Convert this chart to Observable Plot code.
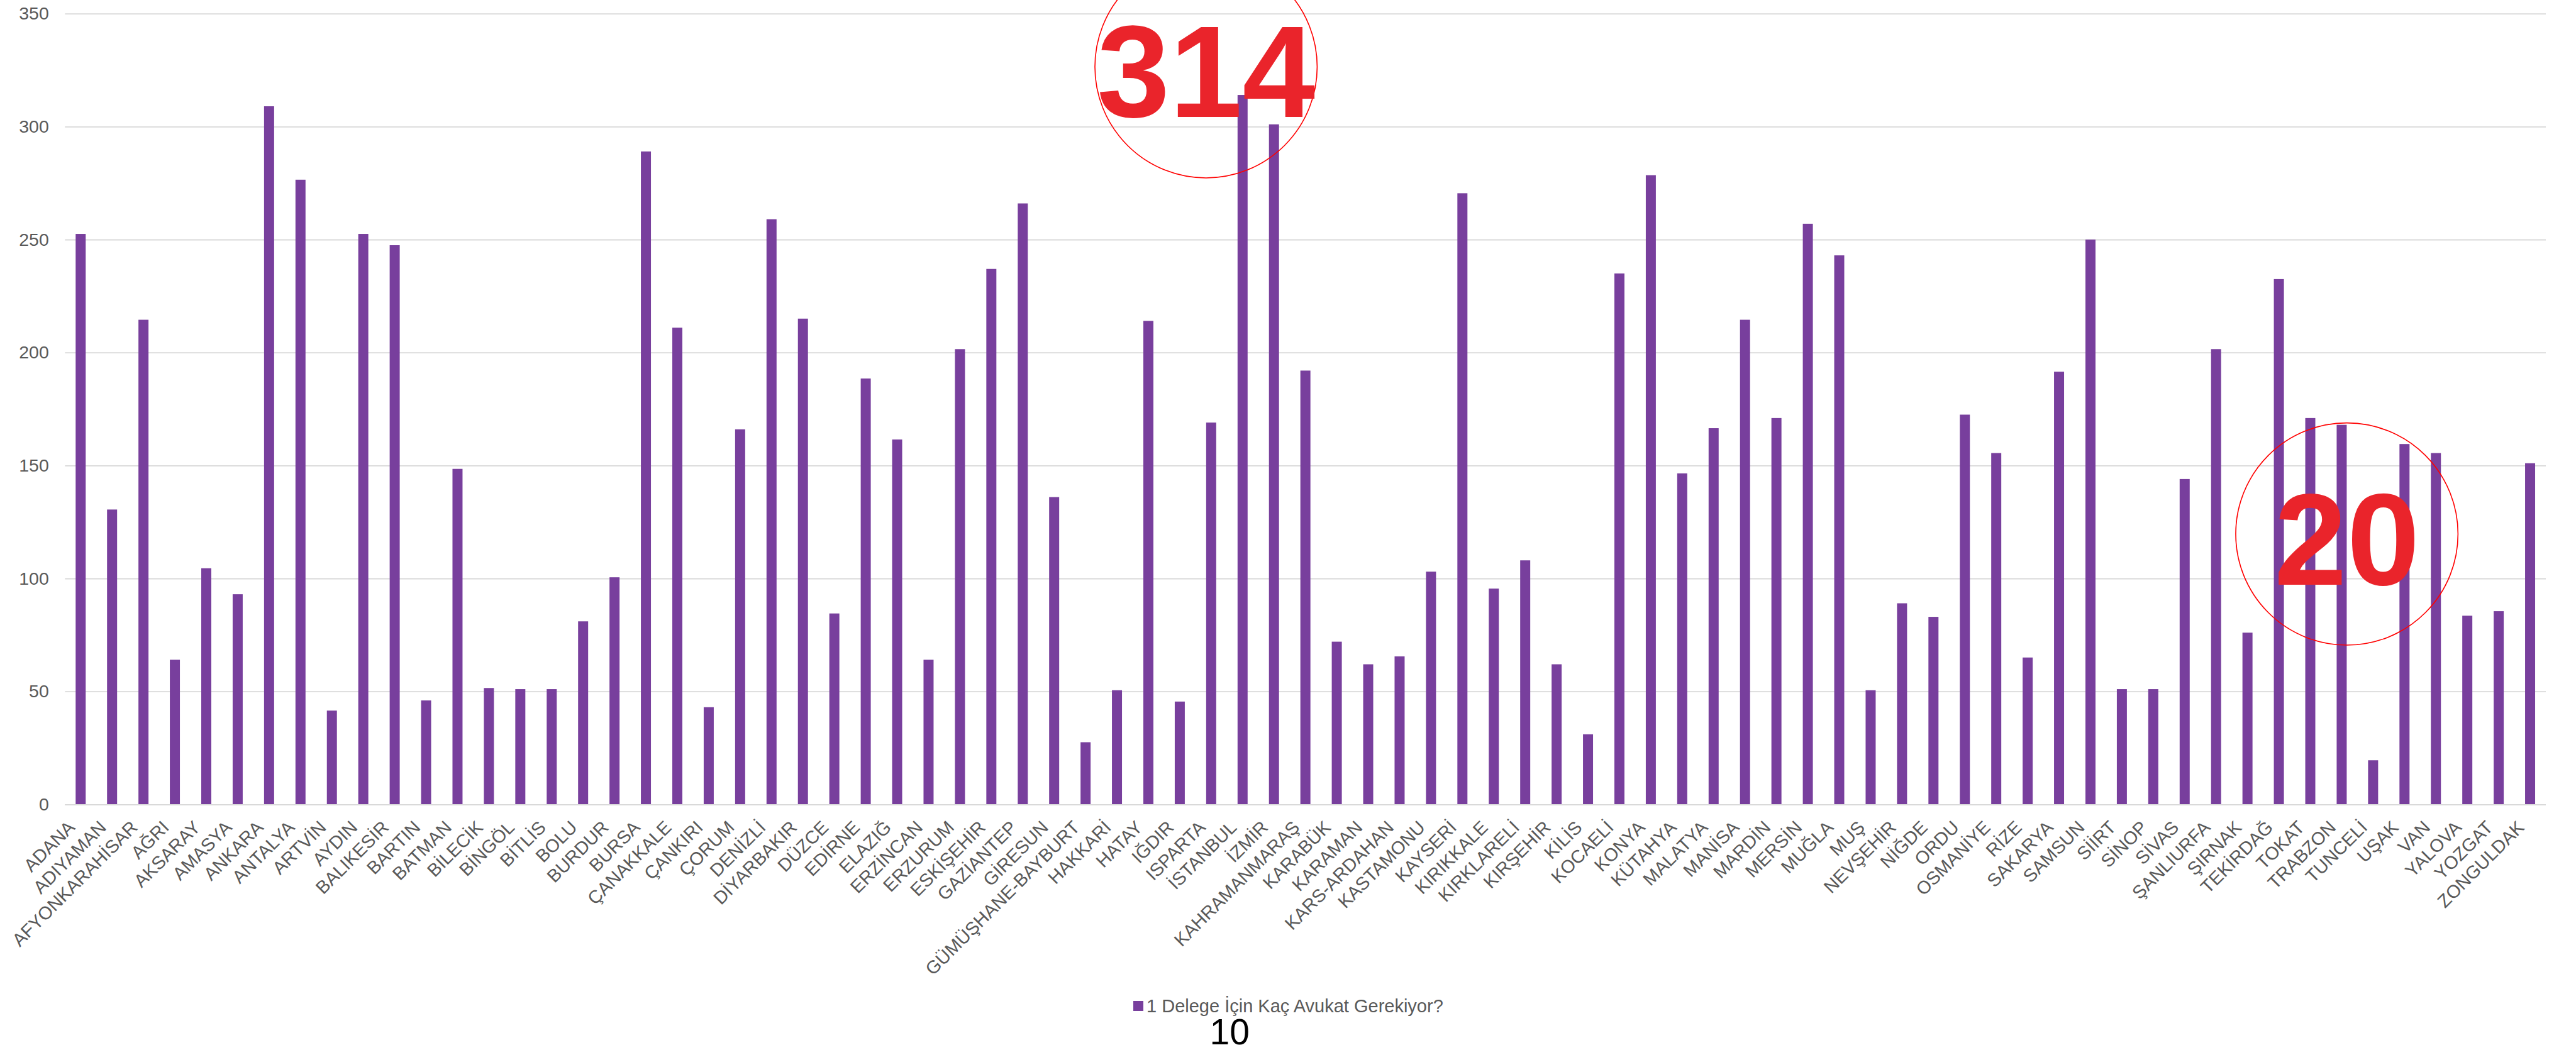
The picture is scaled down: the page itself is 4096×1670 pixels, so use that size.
<!DOCTYPE html>
<html>
<head>
<meta charset="utf-8">
<script src="https://cdn.jsdelivr.net/npm/d3@7"></script>
<script src="https://cdn.jsdelivr.net/npm/@observablehq/plot@0.6"></script>
<style>
html, body { margin: 0; padding: 0; background: #ffffff; }
#wrap { position: relative; width: 4096px; height: 1670px; overflow: hidden; background: #ffffff;
  font-family: "Liberation Sans", Arial, sans-serif; }
#legend { position: absolute; left: 1802px; top: 1585.5px; display: flex; align-items: center;
  font-size: 29px; line-height: 1; color: #595959; white-space: nowrap; }
#legend .sw { width: 16px; height: 15.5px; background: #783F9D; margin-right: 5px; }
#note { position: absolute; left: 1923.5px; top: 1615.6px; font-size: 57px; line-height: 0.9; color: #000; }
</style>
</head>
<body>
<div id="wrap"></div>
<script>
const provinces = ["ADANA","ADIYAMAN","AFYONKARAHİSAR","AĞRI","AKSARAY","AMASYA","ANKARA","ANTALYA","ARTVİN","AYDIN",
  "BALIKESİR","BARTIN","BATMAN","BİLECİK","BİNGÖL","BİTLİS","BOLU","BURDUR","BURSA","ÇANAKKALE",
  "ÇANKIRI","ÇORUM","DENİZLİ","DİYARBAKIR","DÜZCE","EDİRNE","ELAZIĞ","ERZİNCAN","ERZURUM","ESKİŞEHİR",
  "GAZİANTEP","GİRESUN","GÜMÜŞHANE-BAYBURT","HAKKARİ","HATAY","IĞDIR","ISPARTA","İSTANBUL","İZMİR","KAHRAMANMARAŞ",
  "KARABÜK","KARAMAN","KARS-ARDAHAN","KASTAMONU","KAYSERİ","KIRIKKALE","KIRKLARELİ","KIRŞEHİR","KİLİS","KOCAELİ",
  "KONYA","KÜTAHYA","MALATYA","MANİSA","MARDİN","MERSİN","MUĞLA","MUŞ","NEVŞEHİR","NİĞDE",
  "ORDU","OSMANİYE","RİZE","SAKARYA","SAMSUN","SİİRT","SİNOP","SİVAS","ŞANLIURFA","ŞIRNAK",
  "TEKİRDAĞ","TOKAT","TRABZON","TUNCELİ","UŞAK","VAN","YALOVA","YOZGAT","ZONGULDAK"];

const values = [252.5,130.5,214.5,64,104.5,93,309,276.5,41.5,252.5,
  247.5,46,148.5,51.5,51,51,81,100.5,289,211,
  43,166,259,215,84.5,188.5,161.5,64,201.5,237,
  266,136,27.5,50.5,214,45.5,169,314,301,192,
  72,62,65.5,103,270.5,95.5,108,62,31,235,
  278.5,146.5,166.5,214.5,171,257,243,50.5,89,83,
  172.5,155.5,65,191.5,250,51,51,144,201.5,76,
  232.5,171,168,19.5,159.5,155.5,83.5,85.5,151];

const yTicks = [0, 50, 100, 150, 200, 250, 300, 350];
const seriesName = "1 Delege İçin Kaç Avukat Gerekiyor?";
const noteText = "10";
const highAnnotation = [{province: "İSTANBUL", label: "314"}];
const lowAnnotation = [{province: "TUNCELİ", label: "20"}];

const data = provinces.map((p, i) => ({province: p, value: values[i]}));

const barColor = "#783F9D";
const red = "#EA242B";
const font = "Liberation Sans, Arial, sans-serif";

const chart = Plot.plot({
  width: 4096,
  height: 1560,
  marginTop: 21.7,
  marginBottom: 280.7,
  marginLeft: 103.3,
  marginRight: 48,
  style: {fontFamily: font, background: "#ffffff"},
  x: {domain: provinces, paddingInner: 0.68, paddingOuter: 0.34, label: null},
  y: {domain: [0, 350], label: null},
  marks: [
    Plot.gridY(yTicks, {stroke: "#D9D9D9", strokeOpacity: 1, strokeWidth: 1.8}),
    Plot.barY(data, {x: "province", y: "value", fill: barColor}),
    Plot.ruleY([0], {stroke: "#D9D9D9", strokeWidth: 1.8}),
    Plot.axisY(yTicks, {tickSize: 0, tickPadding: 26, fontSize: 28.5, fill: "#595959", label: null}),
    Plot.axisX({tickSize: 0, tickRotate: -45, tickPadding: 31.4, dx: -14.6, fontSize: 29, fill: "#595959", label: null}),
    Plot.dot(highAnnotation, {x: "province", y: () => 326.6, dx: -58.6, r: 176.7, fill: "none", stroke: "#FF0000", strokeWidth: 1.6}),
    Plot.text(highAnnotation, {x: "province", y: () => 304.4, dx: -58.6, text: "label", fontSize: 208, fontWeight: "bold", fill: red, lineAnchor: "bottom", textAnchor: "middle", fontFamily: font}),
    Plot.dot(lowAnnotation, {x: "province", y: () => 119.8, dx: -42.2, r: 176.7, fill: "none", stroke: "#FF0000", strokeWidth: 1.6}),
    Plot.text(lowAnnotation, {x: "province", y: () => 97.3, dx: -42.2, text: "label", fontSize: 208, fontWeight: "bold", fill: red, lineAnchor: "bottom", textAnchor: "middle", fontFamily: font})
  ]
});

const wrap = document.getElementById("wrap");
wrap.appendChild(chart);

const legend = document.createElement("div");
legend.id = "legend";
const sw = document.createElement("span");
sw.className = "sw";
const lt = document.createElement("span");
lt.textContent = seriesName;
legend.appendChild(sw);
legend.appendChild(lt);
wrap.appendChild(legend);

const note = document.createElement("div");
note.id = "note";
note.textContent = noteText;
wrap.appendChild(note);
</script>
</body>
</html>
